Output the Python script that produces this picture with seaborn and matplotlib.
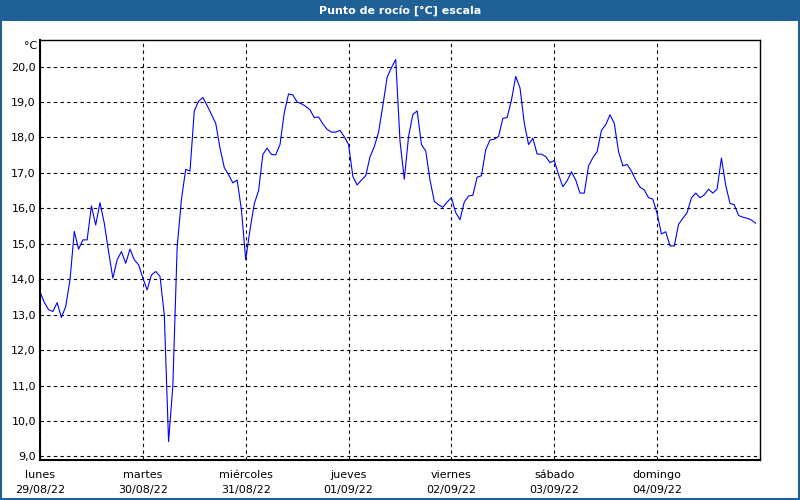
import numpy as np
import pandas as pd
import matplotlib
matplotlib.use("Agg")
import matplotlib.pyplot as plt
from matplotlib.patches import Rectangle
import seaborn as sns

# hourly dew point readings, 29/08/22 00:00 .. 04/09/22 23:00
dew_point = [
    # lunes
    13.64, 13.35, 13.14, 13.09, 13.34, 12.92, 13.23, 13.98, 15.35, 14.85, 15.11, 15.11,
    16.07, 15.53, 16.16, 15.58, 14.78, 14.03, 14.55, 14.78, 14.45, 14.85, 14.55, 14.41,
    # martes
    14.03, 13.70, 14.12, 14.22, 14.08, 13.00, 9.42, 11.00, 14.90, 16.25, 17.10, 17.05,
    18.75, 19.02, 19.13, 18.90, 18.65, 18.40, 17.70, 17.15, 16.95, 16.72, 16.80, 15.96,
    # miércoles
    14.55, 15.40, 16.13, 16.50, 17.52, 17.70, 17.52, 17.51, 17.80, 18.70, 19.23, 19.20,
    19.00, 18.95, 18.88, 18.78, 18.56, 18.58, 18.38, 18.23, 18.15, 18.15, 18.20, 18.02,
    # jueves
    17.80, 16.90, 16.66, 16.80, 16.92, 17.45, 17.74, 18.15, 18.90, 19.70, 19.97, 20.20,
    17.90, 16.82, 18.03, 18.65, 18.75, 17.80, 17.62, 16.80, 16.20, 16.10, 16.03, 16.18,
    # viernes
    16.30, 15.88, 15.68, 16.18, 16.35, 16.37, 16.88, 16.92, 17.65, 17.93, 17.95, 18.03,
    18.54, 18.56, 19.05, 19.72, 19.40, 18.40, 17.80, 17.98, 17.53, 17.53, 17.46, 17.29,
    # sábado
    17.35, 16.95, 16.61, 16.78, 17.03, 16.80, 16.43, 16.43, 17.20, 17.43, 17.60, 18.20,
    18.36, 18.64, 18.40, 17.60, 17.20, 17.24, 17.05, 16.80, 16.60, 16.52, 16.30, 16.26,
    # domingo
    15.85, 15.28, 15.34, 14.94, 14.94, 15.55, 15.72, 15.88, 16.30, 16.43, 16.30, 16.38,
    16.54, 16.43, 16.55, 17.42, 16.65, 16.14, 16.10, 15.80, 15.75, 15.72, 15.67, 15.58,
]
day_names = ["lunes", "martes", "miércoles", "jueves", "viernes", "sábado", "domingo"]
day_dates = ["29/08/22", "30/08/22", "31/08/22", "01/09/22", "02/09/22", "03/09/22", "04/09/22"]
y_ticks = list(range(9, 21))

title = "Punto de rocío [°C] escala"
unit = "°C"
bar_blue = "#1f6096"

df = pd.DataFrame({"hour": np.arange(len(dew_point)), "value": dew_point})

sns.set_style("white")
plt.rcParams["font.family"] = ["DejaVu Sans"]
plt.rcParams["text.color"] = "black"
plt.rcParams["xtick.color"] = "black"
plt.rcParams["ytick.color"] = "black"

fig = plt.figure(figsize=(8, 5), dpi=100)
fig.patch.set_facecolor("white")

# title bar and window frame
fig.patches.append(Rectangle((0, 0.958), 1, 0.042, transform=fig.transFigure,
                             facecolor=bar_blue, edgecolor="none", zorder=0))
fig.patches.append(Rectangle((0.001, 0.002), 0.998, 0.996, transform=fig.transFigure,
                             facecolor="none", edgecolor=bar_blue, lw=1.5, zorder=1))
fig.text(0.5, 0.979, title, color="white", fontsize=8, fontweight="bold",
         ha="center", va="center")

ax = fig.add_axes([0.05, 0.08, 0.9, 0.84])
sns.lineplot(data=df, x="hour", y="value", color="#0000ff", lw=0.8, ax=ax)

ax.set_xlim(0, 7 * 24)
ax.set_ylim(8.9, 20.75)

ax.set_yticks(y_ticks)
ax.set_yticklabels([f"{v:.1f}".replace(".", ",") for v in y_ticks], fontsize=8)
ax.set_xticks(range(0, 7 * 24, 24))
ax.set_xticklabels([f"{n}\n{d}" for n, d in zip(day_names, day_dates)],
                   fontsize=8, linespacing=1.7)
ax.tick_params(axis="y", length=0, pad=3, labelcolor="black")
ax.tick_params(axis="x", length=4, width=1, direction="out", pad=3,
               color="black", labelcolor="black")

ax.grid(True, color="black", ls=(0, (3, 3)), lw=0.8)
ax.set_xlabel("")
ax.set_ylabel("")

for side, w in [("left", 1.5), ("bottom", 1.5), ("top", 1.0), ("right", 1.0)]:
    ax.spines[side].set_visible(True)
    ax.spines[side].set_color("black")
    ax.spines[side].set_linewidth(w)

ax.text(-0.004, 1.0 - 6 / 420, unit, transform=ax.transAxes, fontsize=8,
        ha="right", va="center", color="black")

fig.savefig("out.png", dpi=100)
